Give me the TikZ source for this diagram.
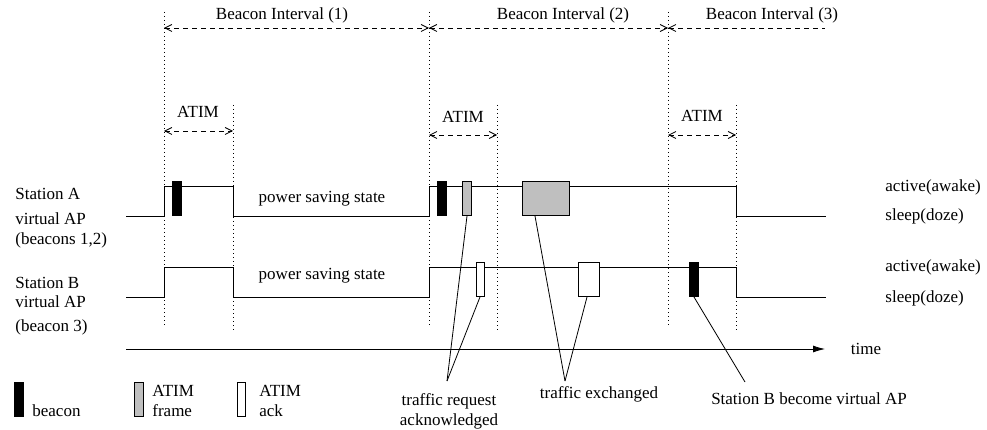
\documentclass[tikz,border=0pt]{standalone}
\usepackage{fontspec}
\setmainfont{Liberation Serif}
\usetikzlibrary{positioning, arrows.meta}

\begin{document}
\begin{tikzpicture}[x=1pt, y=-1pt, line width=0.8pt, font=\fontsize{17}{20}\selectfont]
        \tikzset{lbl/.style={inner sep=0pt},
                 guide/.style={dash pattern=on 1pt off 3pt, line width=0.7pt},
                 span/.style={dash pattern=on 5pt off 4pt, {Straight Barb[length=7pt,width=7pt]}-{Straight Barb[length=7pt,width=7pt]}},
                 span end/.style={dash pattern=on 5pt off 4pt, {Straight Barb[length=7pt,width=7pt]}-},
                 pkt/.style={draw, inner sep=0pt, minimum height=34pt, anchor=south},
                 beacon/.style={pkt, fill=black, minimum width=9pt},
                 atimfrm/.style={pkt, fill=black!25, minimum width=9pt},
                 atimack/.style={pkt, fill=white, minimum width=8pt}}
        \useasboundingbox (0,0) rectangle (987,430);

        % beacon interval boundaries and ATIM windows
        \foreach \t in {164,429,668} \draw[guide] (\t,12) -- (\t,328);
        \foreach \t in {233,497,736} \draw[guide] (\t,105) -- (\t,330);

        \node[lbl] (bi1) at (282,15) {Beacon Interval (1)};
        \node[lbl] (bi2) at (563,15) {Beacon Interval (2)};
        \node[lbl] (bi3) at (772,15) {Beacon Interval (3)};
        \draw[span] (164,28) -- (429,28);
        \draw[span] (429,28) -- (668,28);
        \draw[span end] (668,28) -- (825,28);

        \node[lbl] (atim1) at (198,112) {ATIM};
        \node[lbl] (atim2) at (463,117) {ATIM};
        \node[lbl] (atim3) at (702,116) {ATIM};
        \draw[span] (164,131) -- (233,131);
        \draw[span] (429,135) -- (497,135);
        \draw[span] (668,135) -- (736,135);

        % station states
        \foreach \hi/\lo in {186/216, 267/297}
          \draw (126,\lo) -- (164,\lo) -- (164,\hi) -- (233,\hi) -- (233,\lo) -- (429,\lo)
                -- (429,\hi) -- (736,\hi) -- (736,\lo) -- (826,\lo);

        \node[lbl] (psA) at (322,199) {power saving state};
        \node[lbl] (psB) at (322,276) {power saving state};

        \node[lbl, anchor=west] (staA) at (15,194) {Station A};
        \node[lbl, anchor=west] (vapA) at (15,219) {virtual AP};
        \node[lbl, anchor=west] (bcsA) at (15,240) {(beacons 1,2)};
        \node[lbl, anchor=west] (staB) at (15,283) {Station B};
        \node[lbl, anchor=west] (vapB) at (15,302) {virtual AP};
        \node[lbl, anchor=west] (bcsB) at (15,327) {(beacon 3)};

        \node[lbl, anchor=west] (actA) at (885,187) {active(awake)};
        \node[lbl, anchor=west] (slpA) at (885,216) {sleep(doze)};
        \node[lbl, anchor=west] (actB) at (885,267) {active(awake)};
        \node[lbl, anchor=west] (slpB) at (885,298) {sleep(doze)};

        % frames on the air
        \node[beacon] (bcnA1) at (177,216) {};
        \node[beacon] (bcnA2) at (441.5,216) {};
        \node[atimfrm] (frmA) at (467,216) {};
        \node[atimfrm, minimum width=47pt] (dataA) at (546,216) {};
        \node[atimack] (ackB1) at (480,297) {};
        \node[atimack, minimum width=21pt] (dataB) at (589,297) {};
        \node[beacon] (bcnB) at (694,297) {};

        % time axis
        \coordinate (t0) at (126,349);
        \coordinate (t1) at (825,349);
        \draw[-{Latex[length=12pt,width=7pt]}] (t0) -- (t1);
        \node[lbl] (time) at (866,349) {time};

        % annotations
        \node[lbl, align=center] (req) at (449,411) {traffic request\\acknowledged};
        \node[lbl] (xchg) at (599,394) {traffic exchanged};
        \node[lbl] (newap) at (809,399) {Station B become virtual AP};
        \coordinate (reqtip) at (447,381);
        \coordinate (xchgtip) at (565,381);
        \coordinate (newaptip) at (745,382);
        \path[draw]
        (reqtip) edge (frmA.south)
        (reqtip) edge (ackB1.south)
        (xchgtip) edge ([xshift=-11pt]dataA.south)
        (xchgtip) edge ([xshift=-2pt]dataB.south)
        (newaptip) edge (bcnB.south);

        % legend
        \node[beacon] (lgBcn) at (19,417) {};
        \node[atimfrm] (lgFrm) at (139,417) {};
        \node[atimack] (lgAck) at (241,417) {};
        \node[lbl, anchor=west] (lgBcnTxt) at (32,411) {beacon};
        \node[lbl, anchor=west] (lgFrmTop) at (152,391) {ATIM};
        \node[lbl, below=20pt of lgFrmTop.west, anchor=west] (lgFrmBot) {frame};
        \node[lbl, anchor=west] (lgAckTop) at (259,391) {ATIM};
        \node[lbl, below=20pt of lgAckTop.west, anchor=west] (lgAckBot) {ack};
\end{tikzpicture}
\end{document}
